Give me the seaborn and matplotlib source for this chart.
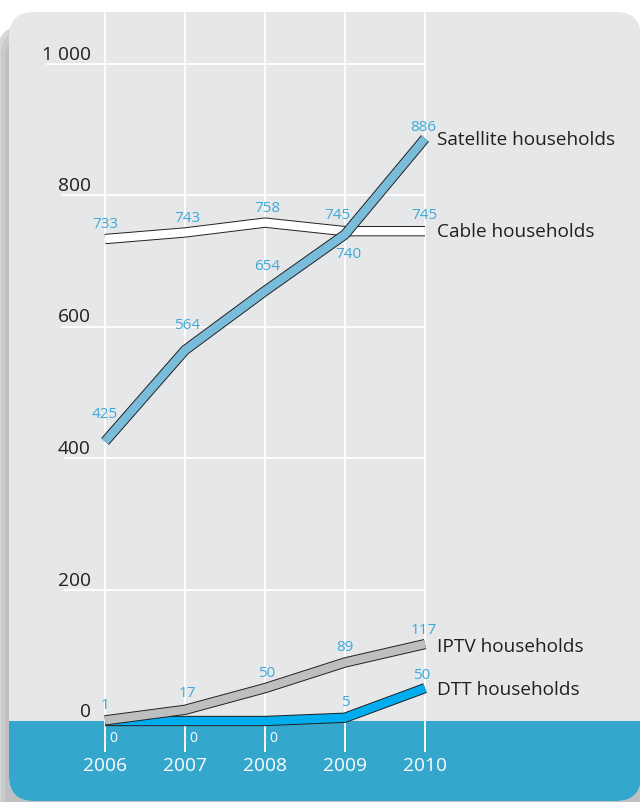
import matplotlib
matplotlib.use("Agg")
import matplotlib.pyplot as plt
import matplotlib.patheffects as pe
from matplotlib.patches import FancyBboxPatch, Rectangle
import pandas as pd
import seaborn as sns

# ---------------- data ----------------
years = [2006, 2007, 2008, 2009, 2010]
satellite = [425, 564, 654, 740, 886]
cable = [733, 743, 758, 745, 745]
iptv = [1, 17, 50, 89, 117]
dtt = [0, 0, 0, 5, 50]
series_names = ["DTT households", "IPTV households", "Cable households", "Satellite households"]
yticks = [0, 200, 400, 600, 800, 1000]
ytick_labels = ["0", "200", "400", "600", "800", "1 000"]
year_labels = ["2006", "2007", "2008", "2009", "2010"]

# ---------------- layout helpers (pixels -> data) ----------------
W, H = 640, 802
X0PX, XSTEP = 105, 80          # pixel of 2006, pixels per year
Y0PX, YSCALE = 721, 0.6575     # pixel (from top) of value 0, pixels per unit


def dx(px):
    return years[0] + (px - X0PX) / XSTEP


def dy(px):
    return (Y0PX - px) / YSCALE


sns.set_theme(style="white")
plt.rcParams["font.family"] = ["Open Sans", "DejaVu Sans"]

fig = plt.figure(figsize=(W / 100, H / 100), dpi=100)
fig.patch.set_facecolor("white")
ax = fig.add_axes([0, 0, 1, 1])
ax.set_xlim(dx(0), dx(W))
ax.set_ylim(dy(H), dy(0))
ax.axis("off")
ax.patch.set_visible(False)

inch = fig.dpi_scale_trans


def box(x0, y0, x1, y1):
    # pixel box (top-left origin) -> inches (bottom-left origin)
    return x0 / 100, (H - y1) / 100, (x1 - x0) / 100, (y1 - y0) / 100


# shadow (below the panel)
for x0, y0, col, alpha in [(-2, 26, "#d6d7d9", 1.0), (1, 30, "#c9cacc", 1.0),
                           (5, 34, "#bdbec0", 0.8)]:
    bx, by, bw, bh = box(x0, y0, 650, 830)
    sh = FancyBboxPatch((bx, by), bw, bh, boxstyle="round,pad=0,rounding_size=0.25",
                        transform=inch, facecolor=col, edgecolor="none",
                        alpha=alpha, zorder=0.5)
    ax.add_patch(sh)

# panel
bx, by, bw, bh = box(9, 12, 641, 801)
panel = FancyBboxPatch((bx, by), bw, bh, boxstyle="round,pad=0,rounding_size=0.25",
                       transform=inch, facecolor="#e6e7e8", edgecolor="none", zorder=1)
ax.add_patch(panel)

# blue band below zero
band = Rectangle((dx(0), dy(H + 10)), dx(W + 10) - dx(0), dy(Y0PX) - dy(H + 10),
                 facecolor="#35a6cc", edgecolor="none", zorder=1.5)
ax.add_patch(band)
band.set_clip_path(panel)

# gridlines
ax.vlines(years, dy(752), dy(12), colors="white", linewidth=1.3, zorder=2)
grid_start_px = [64, 64, 64, 61, 61, 46]
for t, sx in zip(yticks[1:], grid_start_px[1:]):
    ax.hlines(t, dx(sx), years[-1], colors="white", linewidth=1.3, zorder=2)

# tick labels
txt_col = "#231f20"
for t, lab in zip(yticks, ytick_labels):
    ax.text(dx(91), t + 4 / YSCALE, lab, ha="right", va="baseline",
            fontsize=13.8, color=txt_col, zorder=3)
for yr, lab in zip(years, year_labels):
    ax.text(yr, dy(766), lab, ha="center", va="center", fontsize=13.8,
            color="white", zorder=3)

# ---------------- lines ----------------
df = pd.DataFrame({
    "year": years * 4,
    "value": dtt + iptv + cable + satellite,
    "series": sum([[n] * len(years) for n in series_names], []),
})
palette = {
    "DTT households": "#00aeef",
    "IPTV households": "#bcbec0",
    "Cable households": "#ffffff",
    "Satellite households": "#79bddb",
}
sns.lineplot(data=df, x="year", y="value", hue="series", hue_order=series_names,
             palette=palette, legend=False, ax=ax,
             solid_capstyle="butt", solid_joinstyle="miter")
for i, ln in enumerate(ax.lines):
    ln.set_zorder(5 + i)
    ln.set_linewidth(6.0)
    ln.set_path_effects([pe.Stroke(linewidth=7.4, foreground=txt_col), pe.Normal()])

# ---------------- value labels ----------------
val_col = "#3ea9d8"
label_offsets = {
    "Satellite households": [(0, 27), (2, 25), (2, 24), (3, -20), (-2, 11)],
    "Cable households": [(0, 15), (2, 14), (2, 14), (-8, 16), (-1, 16)],
    "IPTV households": [(0, 15), (2, 16), (2, 15), (0, 15), (-1, 14)],
    "DTT households": [(8, -17), (8, -17), (8, -17), (0, 15), (-3, 13)],
}
series_vals = {
    "DTT households": dtt,
    "IPTV households": iptv,
    "Cable households": cable,
    "Satellite households": satellite,
}
for name in series_names:
    for yr, v, (ox, oy) in zip(years, series_vals[name], label_offsets[name]):
        col = "white" if oy < 0 and name == "DTT households" else val_col
        fs = 10 if col == "white" else 11
        ax.annotate(str(v), (yr, v), xytext=(ox, oy), textcoords="offset pixels",
                    ha="center", va="center", fontsize=fs, color=col, zorder=20)

# series names
name_offsets = {"Satellite households": -2, "Cable households": -1,
                "IPTV households": -3, "DTT households": -2}
for name in series_names:
    v = series_vals[name][-1]
    ax.annotate(name, (years[-1], v), xytext=(12, name_offsets[name]),
                textcoords="offset pixels", ha="left", va="center",
                fontsize=13.7, color=txt_col, zorder=20)

fig.savefig("out.png", dpi=100)
